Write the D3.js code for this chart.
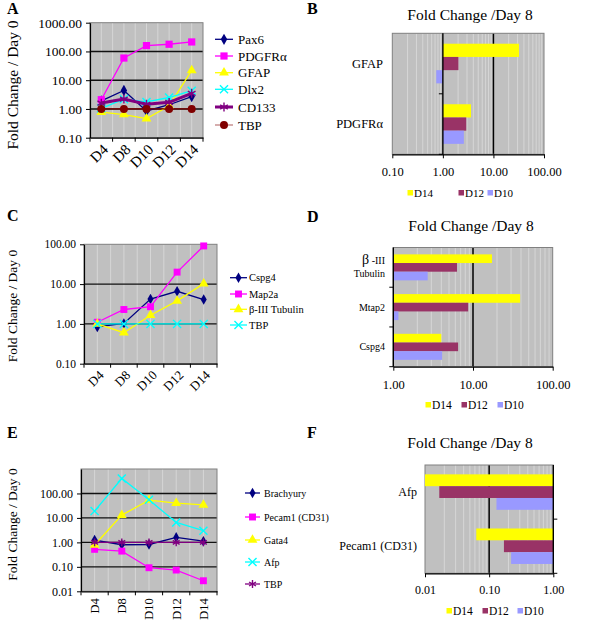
<!DOCTYPE html>
<html><head><meta charset="utf-8">
<script src="https://cdn.jsdelivr.net/npm/d3@7"></script>
<style>
body{margin:0;background:#fff}
svg{display:block}
</style>
</head><body>
<svg id="c" width="600" height="631"></svg>
<script>
// ---------- DATA ----------
const days = ["D4","D8","D10","D12","D14"];
// Panel A
const aSeries = ["Pax6","PDGFRα","GFAP","Dlx2","CD133","TBP"];
const aPax6   = [1.9, 4.4, 0.85, 1.4, 2.7];
const aPDGFRa = [2.1, 59, 160, 178, 214];
const aGFAP   = [0.77, 0.64, 0.46, 1.27, 22];
const aDlx2   = [1.05, 2.2, 1.75, 2.5, 4.3];
const aCD133  = [1.6, 2.2, 1.45, 1.7, 3.5];
const aTBP    = [1, 1, 1, 1, 1];
const aTicks  = [0.1, 1, 10, 100, 1000];
// Panel C
const cSeries = ["Cspg4","Map2a","β-III Tubulin","TBP"];
const cCspg4  = [0.84, 1.03, 4.2, 6.6, 4.1];
const cMap2a  = [1.1, 2.3, 2.7, 20, 91];
const cTub    = [1.0, 0.6, 1.65, 3.8, 10.3];
const cTBP    = [1, 1, 1, 1, 1];
const cTicks  = [0.1, 1, 10, 100];
// Panel E
const eSeries    = ["Brachyury","Pecam1 (CD31)","Gata4","Afp","TBP"];
const eBrachyury = [1.24, 0.8, 0.82, 1.6, 1.12];
const ePecam1    = [0.52, 0.44, 0.092, 0.074, 0.027];
const eGata4     = [0.78, 13, 53, 40, 34];
const eAfp       = [19, 410, 55, 6.5, 3.0];
const eTBP       = [1, 1, 1, 1, 1];
const eTicks     = [0.01, 0.1, 1, 10, 100];
// Bar panels (fold change / day 8)
const barSeries = ["D14","D12","D10"];
const bCats = ["GFAP","PDGFRα"];
const bD14 = [32, 3.6];
const bD12 = [2.03, 2.9];
const bD10 = [0.74, 2.6];
const bTicks = [0.1, 1, 10, 100];
const dCats = ["β-III Tubulin","Mtap2","Cspg4"];
const dD14 = [17.3, 39, 4.0];
const dD12 = [6.3, 8.7, 6.5];
const dD10 = [2.7, 1.16, 4.1];
const dTicks = [1, 10, 100];
const fCats = ["Afp","Pecam1 (CD31)"];
const fD14 = [0.01, 0.063];
const fD12 = [0.0167, 0.17];
const fD10 = [0.13, 0.22];
const fTicks = [0.01, 0.1, 1];

// ---------- STYLE ----------
const FONT = "'Liberation Serif', 'Times New Roman', 'DejaVu Serif', serif";
const BG = "#c0c0c0", MINOR = "#d6d6d6", BORDER = "#808080";
const barColors = {D14:"#ffff00", D12:"#993366", D10:"#9999ff"};
const svg = d3.select("#c");
const fmt = d3.format(".2f");

function marker(g, type, color, x, y, sz){
  const map = {diamond:d3.symbolDiamond, square:d3.symbolSquare, triangle:d3.symbolTriangle,
               circle:d3.symbolCircle, x:d3.symbolTimes, star:d3.symbolAsterisk};
  const stroked = (type==="x"||type==="star");
  const p = g.append("path").attr("d", d3.symbol(map[type], stroked? sz*1.1 : sz)())
    .attr("transform", `translate(${x},${y})`);
  if (stroked) p.attr("fill","none").attr("stroke",color).attr("stroke-width",1.4);
  else p.attr("fill",color).attr("stroke","none");
}

function lineChart(o){
  const g = svg.append("g");
  const x = d3.scaleBand().domain(days).range([o.x0,o.x1]);
  const y = d3.scaleLog().domain([o.ymin,o.ymax]).range([o.y1,o.y0]);
  g.append("rect").attr("x",o.x0).attr("y",o.y0).attr("width",o.x1-o.x0).attr("height",o.y1-o.y0).attr("fill",BG);
  const bw = x.bandwidth();
  for (let i=1;i<days.length*2;i++){
    const xv = o.x0 + i*bw/2;
    g.append("line").attr("x1",xv).attr("x2",xv).attr("y1",o.y0).attr("y2",o.y1).attr("stroke",MINOR).attr("stroke-width",1);
  }
  o.grid.forEach(v=>{
    g.append("line").attr("x1",o.x0).attr("x2",o.x1).attr("y1",y(v)).attr("y2",y(v)).attr("stroke","#111").attr("stroke-width",1.4);
  });
  g.append("rect").attr("x",o.x0).attr("y",o.y0).attr("width",o.x1-o.x0).attr("height",o.y1-o.y0)
    .attr("fill","none").attr("stroke",BORDER).attr("stroke-width",1);
  const ya = g.append("g").attr("transform",`translate(${o.x0},0)`)
    .call(d3.axisLeft(y).tickValues(o.ticks).tickFormat(fmt).tickSize(4).tickSizeOuter(0).tickPadding(4));
  ya.select(".domain").attr("stroke","#000").attr("stroke-width",1.2);
  ya.selectAll(".tick line").attr("stroke","#000");
  ya.selectAll("text").style("font-size",o.yfs+"px");
  const xa = g.append("g").attr("transform",`translate(0,${o.y1})`)
    .call(d3.axisBottom(x).tickSize(0).tickSizeOuter(0));
  xa.select(".domain").attr("stroke","#000").attr("stroke-width",1.2);
  xa.selectAll("text").style("font-size",o.xfs+"px")
    .attr("x",0).attr("y",0).attr("dy","0.35em").attr("text-anchor","end")
    .attr("transform",`translate(${o.xlx},${o.xly}) rotate(${o.rot})`);
  for (let i=0;i<=days.length;i++){
    const xv = o.x0 + i*bw;
    g.append("line").attr("x1",xv).attr("x2",xv).attr("y1",o.y1).attr("y2",o.y1+4).attr("stroke","#000");
  }
  o.series.forEach(s=>{
    const pts = s.values.map((v,i)=>[x(days[i])+bw/2, y(v)]);
    g.append("path").attr("d",d3.line()(pts)).attr("fill","none").attr("stroke",s.color).attr("stroke-width",s.lw||1.3);
    pts.forEach(p=>marker(g,s.mark,s.color,p[0],p[1],s.msz||42));
  });
  o.series.forEach((s,i)=>{
    const ly = o.legY[i];
    g.append("line").attr("x1",o.legX0).attr("x2",o.legX1).attr("y1",ly).attr("y2",ly).attr("stroke",s.legColor||s.color).attr("stroke-width",s.lw||1.3);
    marker(g,s.mark,s.color,(o.legX0+o.legX1)/2,ly,s.msz||42);
    g.append("text").attr("x",o.legTX).attr("y",ly).attr("dy","0.35em").style("font-size",o.legfs+"px").text(s.name);
  });
  g.append("text").attr("transform",`translate(${o.tx},${o.ty}) rotate(-90)`).attr("text-anchor","middle")
    .attr("dy","0.35em").style("font-size",o.tfs+"px").text("Fold Change / Day 0");
}

function barChart(o){
  const g = svg.append("g");
  const x = d3.scaleLog().domain(o.xd).range([o.x0,o.x1]).clamp(true);
  const y = d3.scaleBand().domain(o.cats).range([o.y0,o.y1]);
  g.append("rect").attr("x",o.x0).attr("y",o.y0).attr("width",o.x1-o.x0).attr("height",o.y1-o.y0).attr("fill",BG);
  const d0 = Math.round(Math.log10(o.xd[0])), d1 = Math.round(Math.log10(o.xd[1]));
  for (let d=d0; d<d1; d++){
    for (let k=2;k<=9;k++){
      const xv = x(k*Math.pow(10,d));
      g.append("line").attr("x1",xv).attr("x2",xv).attr("y1",o.y0).attr("y2",o.y1).attr("stroke",MINOR).attr("stroke-width",1);
    }
  }
  o.major.forEach(v=>{
    g.append("line").attr("x1",x(v)).attr("x2",x(v)).attr("y1",o.y0).attr("y2",o.y1).attr("stroke","#000").attr("stroke-width",1.5);
  });
  g.append("rect").attr("x",o.x0).attr("y",o.y0).attr("width",o.x1-o.x0).attr("height",o.y1-o.y0)
    .attr("fill","none").attr("stroke",BORDER).attr("stroke-width",1);
  const band = y.bandwidth(), gh = band*0.655, bh = gh/barSeries.length;
  o.cats.forEach((c,i)=>{
    barSeries.forEach((s,j)=>{
      const v = o.values[s][i];
      const xa = x(o.cross), xb = x(v);
      g.append("rect").attr("x",Math.min(xa,xb)).attr("width",Math.abs(xb-xa))
        .attr("y",y(c)+(band-gh)/2+j*bh).attr("height",bh).attr("fill",barColors[s]);
    });
  });
  const xa = g.append("g").attr("transform",`translate(0,${o.y1})`)
    .call(d3.axisBottom(x).tickValues(o.ticks).tickFormat(fmt).tickSize(4).tickSizeOuter(0).tickPadding(o.tpad));
  xa.select(".domain").attr("stroke","#000").attr("stroke-width",1.2);
  xa.selectAll(".tick line").attr("stroke","#000");
  xa.selectAll("text").style("font-size",o.tfs+"px");
  const cx = x(o.cross);
  g.append("line").attr("x1",cx).attr("x2",cx).attr("y1",o.y0).attr("y2",o.y1).attr("stroke","#000").attr("stroke-width",1.4);
  for (let i=1;i<=o.cats.length;i++){
    const yv = o.y0 + i*band;
    g.append("line").attr("x1",cx).attr("x2",cx+o.tickDir*4).attr("y1",yv).attr("y2",yv).attr("stroke","#000");
  }
  o.cats.forEach(c=>{
    const yc = y(c)+band/2;
    if (c.startsWith("β-III")){
      const t = g.append("text").attr("x",o.labX).attr("y",yc-3).attr("text-anchor","end");
      t.append("tspan").style("font-size","14px").text("β");
      t.append("tspan").style("font-size",o.cfs+"px").text(" -III");
      g.append("text").attr("x",o.labX).attr("y",yc+10).attr("text-anchor","end").style("font-size",o.cfs+"px").text("Tubulin");
    } else {
      g.append("text").attr("x",o.labX).attr("y",yc).attr("dy","0.35em").attr("text-anchor","end").style("font-size",o.cfs+"px").text(c);
    }
  });
  g.append("text").attr("x",o.titleX).attr("y",o.titleY).attr("text-anchor","middle").style("font-size","15.5px").text("Fold Change /Day 8");
  barSeries.forEach((s,j)=>{
    const lx = o.legX[j];
    g.append("rect").attr("x",lx-2.5).attr("y",o.legY-3).attr("width",5.5).attr("height",5.5).attr("fill",barColors[s]);
    g.append("text").attr("x",lx+4).attr("y",o.legY).attr("dy","0.35em").style("font-size",o.lfs+"px").text(s);
  });
}

// ---------- PANELS ----------
lineChart({x0:90,x1:203,y0:22.7,y1:137.7,ymin:0.1,ymax:1000,ticks:aTicks,grid:[1,10,100],
  yfs:13.5,xfs:15,xlx:4,xly:9,rot:-45,
  series:[
    {name:aSeries[0],values:aPax6,color:"#000080",mark:"diamond",msz:36},
    {name:aSeries[1],values:aPDGFRa,color:"#ff00ff",mark:"square",msz:52},
    {name:aSeries[2],values:aGFAP,color:"#ffff00",mark:"triangle",msz:42},
    {name:aSeries[3],values:aDlx2,color:"#00ffff",mark:"x",msz:40},
    {name:aSeries[4],values:aCD133,color:"#800080",mark:"star",msz:50,lw:3},
    {name:aSeries[5],values:aTBP,color:"#800000",mark:"circle",msz:50,legColor:"#c08080"}
  ],
  legX0:215,legX1:233,legTX:238,legY:[39.3,56,72.7,89.3,107,125],legfs:13,
  tx:13,ty:85,tfs:15.5});

lineChart({x0:84,x1:217,y0:244.3,y1:363.7,ymin:0.1,ymax:100,ticks:cTicks,grid:[1,10],
  yfs:11.5,xfs:13,xlx:4,xly:9,rot:-45,
  series:[
    {name:cSeries[0],values:cCspg4,color:"#000080",mark:"diamond",msz:32},
    {name:cSeries[1],values:cMap2a,color:"#ff00ff",mark:"square",msz:48},
    {name:cSeries[2],values:cTub,color:"#ffff00",mark:"triangle",msz:42},
    {name:cSeries[3],values:cTBP,color:"#00ffff",mark:"x",msz:40}
  ],
  legX0:230,legX1:247,legTX:249,legY:[277.7,294,309.3,325],legfs:10.5,
  tx:12,ty:306,tfs:13.5});

lineChart({x0:81,x1:217,y0:469,y1:591.3,ymin:0.01,ymax:1000,ticks:eTicks,grid:[0.1,1,10,100],
  yfs:12,xfs:12.5,xlx:0,xly:7,rot:-90,
  series:[
    {name:eSeries[0],values:eBrachyury,color:"#000080",mark:"diamond",msz:32},
    {name:eSeries[1],values:ePecam1,color:"#ff00ff",mark:"square",msz:48},
    {name:eSeries[2],values:eGata4,color:"#ffff00",mark:"triangle",msz:42},
    {name:eSeries[3],values:eAfp,color:"#00ffff",mark:"x",msz:40},
    {name:eSeries[4],values:eTBP,color:"#800080",mark:"star",msz:40}
  ],
  legX0:245,legX1:260,legTX:264,legY:[493,517,540,562,584],legfs:10,
  tx:12.5,ty:524.5,tfs:13.5});

barChart({x0:392.3,x1:544,y0:33.3,y1:154.3,xd:[0.1,100],cats:bCats,
  values:{D14:bD14,D12:bD12,D10:bD10},cross:1,major:[10],ticks:bTicks,tpad:9,tfs:12.5,
  tickDir:-1,labX:383,cfs:12.5,titleX:470,titleY:20,legX:[410,461,490],legY:193,lfs:11});

barChart({x0:393.3,x1:552.7,y0:247.5,y1:366.7,xd:[1,100],cats:dCats,
  values:{D14:dD14,D12:dD12,D10:dD10},cross:1,major:[10],ticks:dTicks,tpad:9,tfs:12.5,
  tickDir:-1,labX:385,cfs:10,titleX:471,titleY:231,legX:[428,464,500],legY:405,lfs:11.5});

barChart({x0:425,x1:553.3,y0:465,y1:573.3,xd:[0.01,1],cats:fCats,
  values:{D14:fD14,D12:fD12,D10:fD10},cross:1,major:[0.1],ticks:fTicks,tpad:8,tfs:12,
  tickDir:1,labX:417,cfs:12,titleX:470,titleY:448,legX:[449,485,520],legY:611,lfs:11.5});

// panel letters
[["A",7,14],["B",307,14],["C",7,221],["D",307,222],["E",7,438],["F",307,438]].forEach(p=>{
  svg.append("text").attr("x",p[1]).attr("y",p[2]).style("font-size","16px").style("font-weight","bold").text(p[0]);
});

// force serif font everywhere (axis groups set sans-serif by default)
svg.selectAll("g").attr("font-family", null);
svg.selectAll("text").style("font-family", FONT).style("fill", "#000");
</script>
</body></html>
